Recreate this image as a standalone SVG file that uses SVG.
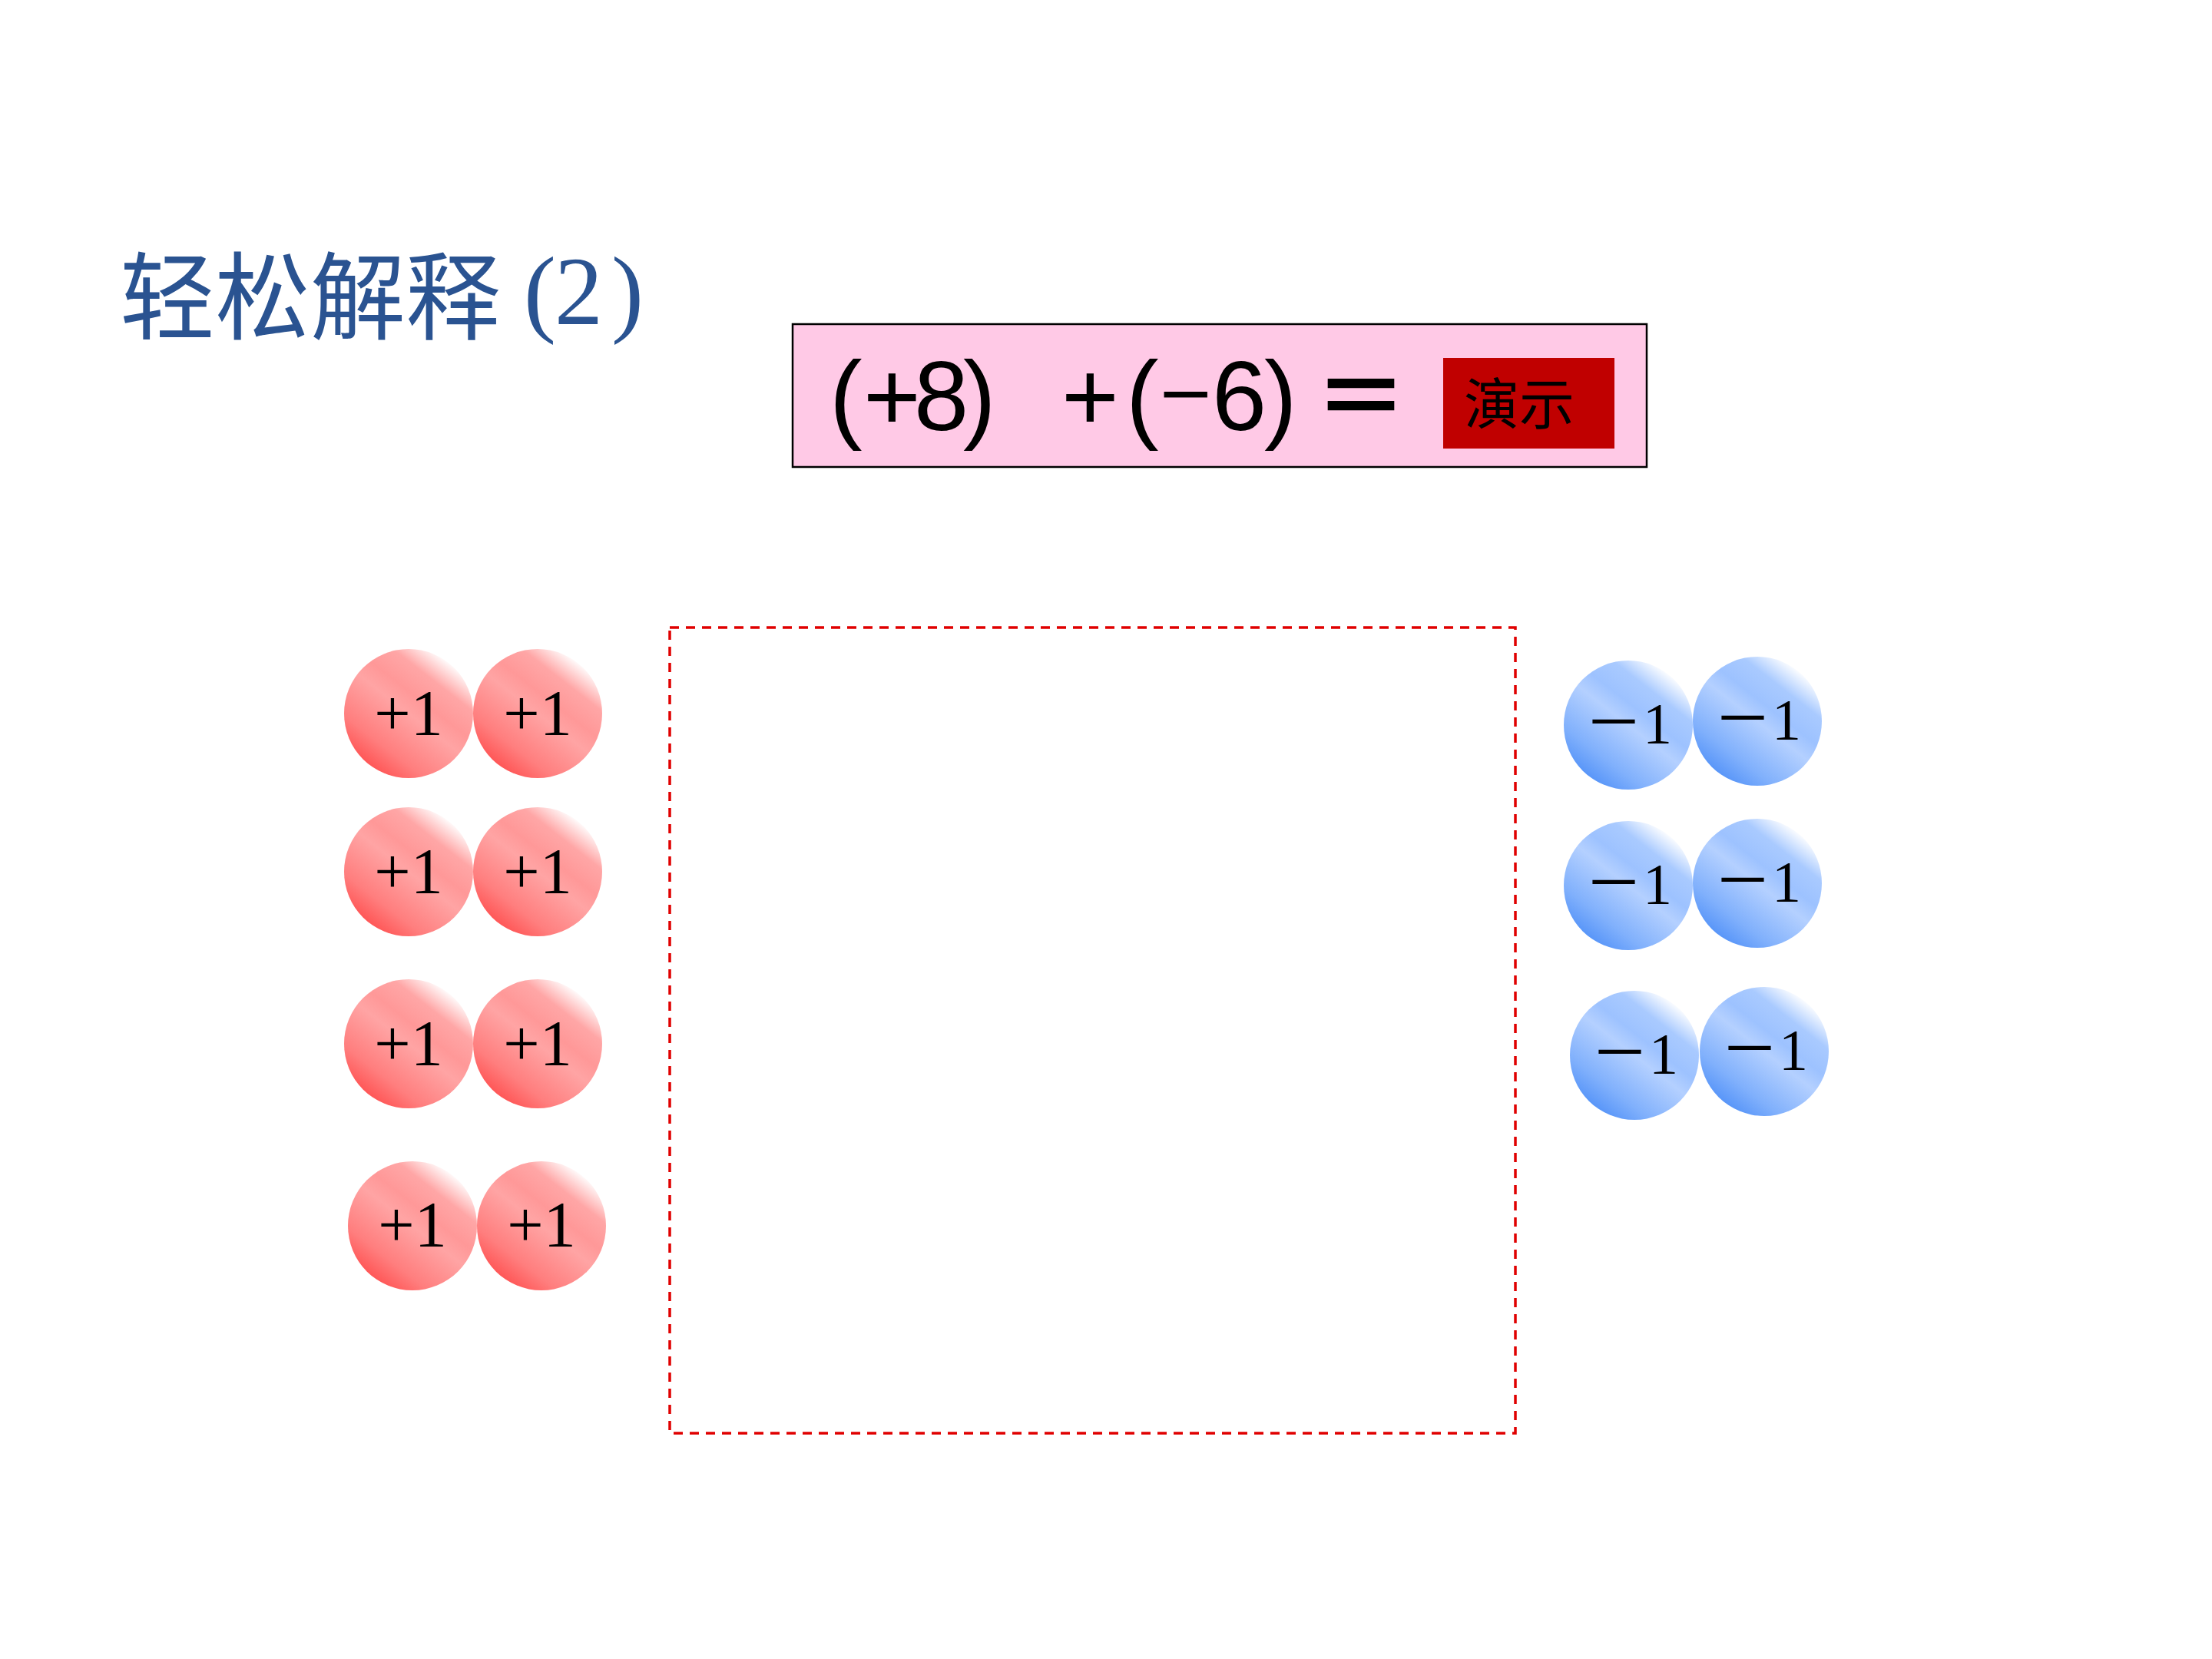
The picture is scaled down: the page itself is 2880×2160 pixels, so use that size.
<svg xmlns="http://www.w3.org/2000/svg" width="2880" height="2160" viewBox="0 0 2880 2160">
<style>
.title{font-family:"Noto Sans CJK SC","Liberation Serif",serif;font-size:124px;fill:#2a5391;}
.titlep{font-family:"Liberation Serif",serif;font-size:126px;fill:#2a5391;}
.eq{font-family:"Liberation Sans",Arial,sans-serif;font-size:128px;fill:#000;}
.eqminus{font-family:"DejaVu Sans",sans-serif;font-size:90px;}
.eqcjk{font-family:"Noto Sans CJK SC",sans-serif;font-size:122px;font-weight:700;fill:#000;}
.demo{font-family:"Noto Sans CJK SC",sans-serif;font-size:72px;fill:#000;}
.lbl{font-family:"Liberation Serif",serif;font-size:84px;fill:#000;text-anchor:middle;}
.nlbl{font-family:"Liberation Serif",serif;font-size:76px;fill:#000;text-anchor:middle;}
.cjkminus{font-family:"Noto Sans CJK SC",sans-serif;}
.red{fill:url(#gRed);}
.blue{fill:url(#gBlue);}
</style>
<defs>
<linearGradient id="gRed" x1="0.15" y1="0.95" x2="0.85" y2="0.05">
<stop offset="0" stop-color="#ff4848"/>
<stop offset="0.22" stop-color="#ff7e7e"/>
<stop offset="0.5" stop-color="#ffa4a4"/>
<stop offset="0.62" stop-color="#ff9898"/>
<stop offset="0.78" stop-color="#ffa6a6"/>
<stop offset="0.95" stop-color="#ffffff"/>
</linearGradient>
<linearGradient id="gBlue" x1="0.15" y1="0.95" x2="0.85" y2="0.05">
<stop offset="0" stop-color="#4a8cf7"/>
<stop offset="0.22" stop-color="#80b0fc"/>
<stop offset="0.5" stop-color="#b4d0ff"/>
<stop offset="0.62" stop-color="#9dc2ff"/>
<stop offset="0.78" stop-color="#a9caff"/>
<stop offset="0.95" stop-color="#ffffff"/>
</linearGradient>
</defs>
<rect width="2880" height="2160" fill="#fff"/>

<g id="title">
<text class="title" x="156" y="432">轻松解释</text>
<text class="titlep" y="422"><tspan x="682">(</tspan><tspan x="722">2</tspan><tspan x="796">)</tspan></text>
</g>

<g id="equation">
<rect x="1032" y="422" width="1112" height="186" fill="#ffc9e6" stroke="#000" stroke-width="2.5"/>
<text class="eq" y="560" x="1080 1124 1190 1254">(+8)</text>
<text class="eq" y="560"><tspan x="1382">+</tspan><tspan x="1466">(</tspan><tspan class="eqminus" x="1506" y="542">−</tspan><tspan x="1578" y="560">6</tspan><tspan x="1646">)</tspan></text>
<text class="eqcjk" x="1711" y="561">＝</text>
</g>

<g id="demo-button">
<rect x="1879" y="466" width="223" height="118" fill="#c00000"/>
<text class="demo" x="1906" y="552">演示</text>
</g>

<g id="workspace">
<rect x="872" y="817" width="1101" height="1049" fill="none" stroke="#e00000" stroke-width="3.5" stroke-dasharray="12 9"/>
</g>

<g id="connectors"></g>

<g id="red-1"><circle class="red" cx="532" cy="929" r="84"/><text class="lbl" x="532" y="957">+1</text></g>
<g id="red-2"><circle class="red" cx="700" cy="929" r="84"/><text class="lbl" x="700" y="957">+1</text></g>
<g id="red-3"><circle class="red" cx="532" cy="1135" r="84"/><text class="lbl" x="532" y="1163">+1</text></g>
<g id="red-4"><circle class="red" cx="700" cy="1135" r="84"/><text class="lbl" x="700" y="1163">+1</text></g>
<g id="red-5"><circle class="red" cx="532" cy="1359" r="84"/><text class="lbl" x="532" y="1387">+1</text></g>
<g id="red-6"><circle class="red" cx="700" cy="1359" r="84"/><text class="lbl" x="700" y="1387">+1</text></g>
<g id="red-7"><circle class="red" cx="537" cy="1596" r="84"/><text class="lbl" x="537" y="1623">+1</text></g>
<g id="red-8"><circle class="red" cx="705" cy="1596" r="84"/><text class="lbl" x="705" y="1623">+1</text></g>

<g id="blue-1"><circle class="blue" cx="2120" cy="944" r="84"/><text class="nlbl" x="2120" y="968"><tspan class="cjkminus">－</tspan>1</text></g>
<g id="blue-2"><circle class="blue" cx="2288" cy="939" r="84"/><text class="nlbl" x="2288" y="963"><tspan class="cjkminus">－</tspan>1</text></g>
<g id="blue-3"><circle class="blue" cx="2120" cy="1153" r="84"/><text class="nlbl" x="2120" y="1177"><tspan class="cjkminus">－</tspan>1</text></g>
<g id="blue-4"><circle class="blue" cx="2288" cy="1150" r="84"/><text class="nlbl" x="2288" y="1174"><tspan class="cjkminus">－</tspan>1</text></g>
<g id="blue-5"><circle class="blue" cx="2128" cy="1374" r="84"/><text class="nlbl" x="2128" y="1398"><tspan class="cjkminus">－</tspan>1</text></g>
<g id="blue-6"><circle class="blue" cx="2297" cy="1369" r="84"/><text class="nlbl" x="2297" y="1393"><tspan class="cjkminus">－</tspan>1</text></g>
</svg>
